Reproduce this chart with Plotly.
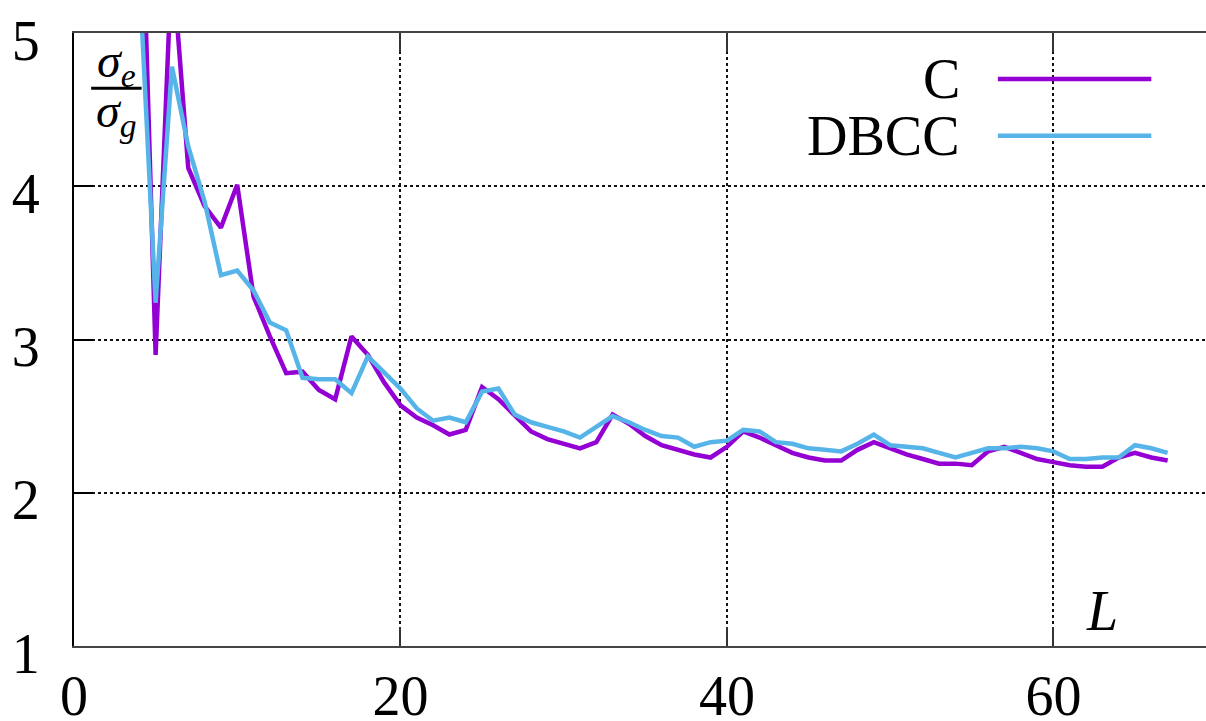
import plotly.graph_objects as go

L = list(range(4, 68))
c_vals = [6.5, 2.90, 5.5, 4.12, 3.87, 3.73, 4.01, 3.28, 3.02, 2.78, 2.79, 2.67, 2.61, 3.02, 2.90, 2.72,
          2.57, 2.49, 2.44, 2.38, 2.41, 2.69, 2.61, 2.50, 2.40, 2.35, 2.32, 2.29, 2.33, 2.51, 2.45, 2.37,
          2.31, 2.28, 2.25, 2.23, 2.30, 2.40, 2.36, 2.31, 2.26, 2.23, 2.21, 2.21, 2.28, 2.33, 2.29, 2.25,
          2.22, 2.19, 2.19, 2.18, 2.27, 2.30, 2.26, 2.22, 2.20, 2.18, 2.17, 2.17, 2.23, 2.26, 2.23, 2.21]
dbcc_vals = [5.39, 3.24, 4.78, 4.26, 3.90, 3.42, 3.45, 3.32, 3.11, 3.06, 2.75, 2.74, 2.74, 2.65, 2.89, 2.78,
             2.68, 2.55, 2.47, 2.49, 2.46, 2.66, 2.68, 2.51, 2.46, 2.43, 2.40, 2.36, 2.43, 2.50, 2.46, 2.41,
             2.37, 2.36, 2.30, 2.33, 2.34, 2.41, 2.40, 2.33, 2.32, 2.29, 2.28, 2.27, 2.32, 2.38, 2.31, 2.30,
             2.29, 2.26, 2.23, 2.26, 2.29, 2.29, 2.30, 2.29, 2.27, 2.22, 2.22, 2.23, 2.23, 2.31, 2.29, 2.26]
series_names = ["C", "DBCC"]
series_colors = ["#9400d3", "#56b4e9"]
x_ticks = [0, 20, 40, 60]
y_ticks = [1, 2, 3, 4, 5]

FONT = "Liberation Serif"

fig = go.Figure()
for name, vals, col in zip(series_names, [c_vals, dbcc_vals], series_colors):
    fig.add_trace(go.Scatter(x=L, y=vals, mode="lines", name=name,
                             line=dict(color=col, width=4.5), showlegend=False))

# custom legend (text left, sample line right), as in gnuplot
leg_y = [4.70, 4.33]
for name, col, yy in zip(series_names, series_colors, leg_y):
    fig.add_annotation(x=54.4, y=yy, xref="x", yref="y", text=name, showarrow=False,
                       xanchor="right", yanchor="middle",
                       font=dict(family=FONT, size=56, color="black"))
    fig.add_shape(type="line", xref="x", yref="y", x0=56.6, x1=66.0, y0=yy, y1=yy,
                  line=dict(color=col, width=4.5))

# y label as a fraction
fig.add_annotation(x=2.6, y=4.80, xref="x", yref="y", showarrow=False,
                   text="<i>σ</i><sub><i>e</i></sub>", font=dict(family=FONT, size=48, color="black"))
fig.add_shape(type="line", xref="x", yref="y", x0=1.05, x1=4.14, y0=4.64, y1=4.64,
              line=dict(color="black", width=3))
fig.add_annotation(x=2.6, y=4.47, xref="x", yref="y", showarrow=False,
                   text="<i>σ</i><sub><i>g</i></sub>", font=dict(family=FONT, size=48, color="black"))

# x label
fig.add_annotation(x=63.0, y=1.23, xref="x", yref="y", showarrow=False,
                   text="<i>L</i>", font=dict(family=FONT, size=56, color="black"))

fig.update_layout(
    width=1206, height=721,
    margin=dict(l=74, r=0, t=33, b=75, autoexpand=False),
    paper_bgcolor="white", plot_bgcolor="white",
    font=dict(family=FONT, size=56, color="black"),
    showlegend=False,
)
fig.update_xaxes(range=[0, 69.35], tickvals=x_ticks, ticks="inside", ticklen=19, tickwidth=1.5,
                 tickcolor="#333", showline=True, linecolor="#444", linewidth=1.5, mirror="ticks",
                 showgrid=True, gridcolor="#111", griddash="dot", gridwidth=1.5,
                 zeroline=False, ticklabelstandoff=0, automargin=False,
                 tickfont=dict(family=FONT, size=56))
fig.update_yaxes(range=[1, 5], tickvals=y_ticks, ticks="inside", ticklen=19, tickwidth=1.5,
                 tickcolor="black", showline=True, linecolor="black", linewidth=2, mirror=False,
                 showgrid=True, gridcolor="#111", griddash="dot", gridwidth=1.5,
                 zeroline=False, ticklabelstandoff=21, ticklabelshift=7, automargin=False,
                 tickfont=dict(family=FONT, size=56))

fig.write_html("out.html")
